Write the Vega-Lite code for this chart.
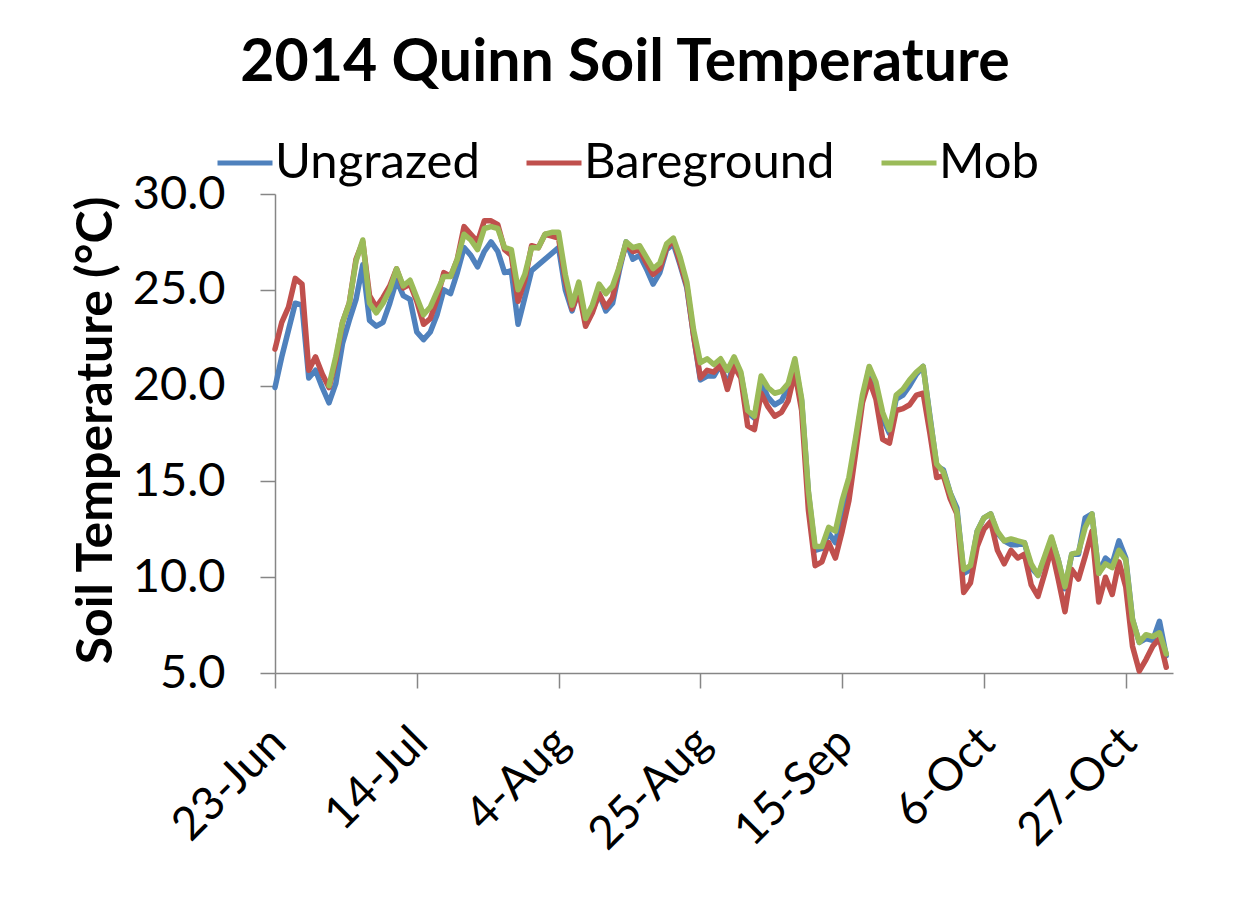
{
  "$schema": "https://vega.github.io/schema/vega-lite/v6.json",
  "width": 898,
  "height": 479,
  "autosize": {"type": "none"},
  "padding": {"left": 275, "top": 194, "right": 76, "bottom": 248},
  "background": "white",
  "title": {"text": "2014 Quinn Soil Temperature", "font": "Lato", "fontSize": 59, "fontWeight": "bold", "color": "black", "anchor": "middle", "frame": "group", "dx": -99, "dy": -36},
  "data": {"values": [
    {"date": "2014-06-23", "Ungrazed": 19.9, "Bareground": 21.9, "Mob": null},
    {"date": "2014-06-24", "Ungrazed": 21.5, "Bareground": 23.3, "Mob": null},
    {"date": "2014-06-25", "Ungrazed": 22.9, "Bareground": 24.1, "Mob": null},
    {"date": "2014-06-26", "Ungrazed": 24.3, "Bareground": 25.6, "Mob": null},
    {"date": "2014-06-27", "Ungrazed": 24.2, "Bareground": 25.3, "Mob": null},
    {"date": "2014-06-28", "Ungrazed": 20.4, "Bareground": 20.8, "Mob": null},
    {"date": "2014-06-29", "Ungrazed": 20.8, "Bareground": 21.5, "Mob": null},
    {"date": "2014-06-30", "Ungrazed": 19.9, "Bareground": 20.6, "Mob": null},
    {"date": "2014-07-01", "Ungrazed": 19.1, "Bareground": 19.9, "Mob": 20.0},
    {"date": "2014-07-02", "Ungrazed": 20.1, "Bareground": 21.3, "Mob": 21.5},
    {"date": "2014-07-03", "Ungrazed": 22.2, "Bareground": 23.3, "Mob": 23.3},
    {"date": "2014-07-04", "Ungrazed": 23.4, "Bareground": 24.3, "Mob": 24.3},
    {"date": "2014-07-05", "Ungrazed": 24.5, "Bareground": 26.6, "Mob": 26.5},
    {"date": "2014-07-06", "Ungrazed": 26.3, "Bareground": 27.5, "Mob": 27.6},
    {"date": "2014-07-07", "Ungrazed": 23.4, "Bareground": 24.7, "Mob": 24.3},
    {"date": "2014-07-08", "Ungrazed": 23.1, "Bareground": 24.1, "Mob": 23.8},
    {"date": "2014-07-09", "Ungrazed": 23.3, "Bareground": 24.6, "Mob": 24.3},
    {"date": "2014-07-10", "Ungrazed": 24.3, "Bareground": 25.2, "Mob": 25.0},
    {"date": "2014-07-11", "Ungrazed": 25.5, "Bareground": 26.1, "Mob": 26.1},
    {"date": "2014-07-12", "Ungrazed": 24.7, "Bareground": 25.1, "Mob": 25.2},
    {"date": "2014-07-13", "Ungrazed": 24.5, "Bareground": 25.3, "Mob": 25.5},
    {"date": "2014-07-14", "Ungrazed": 22.8, "Bareground": 24.4, "Mob": 24.6},
    {"date": "2014-07-15", "Ungrazed": 22.4, "Bareground": 23.2, "Mob": 23.7},
    {"date": "2014-07-16", "Ungrazed": 22.8, "Bareground": 23.5, "Mob": 24.1},
    {"date": "2014-07-17", "Ungrazed": 23.7, "Bareground": 24.5, "Mob": 24.9},
    {"date": "2014-07-18", "Ungrazed": 25.0, "Bareground": 25.9, "Mob": 25.7},
    {"date": "2014-07-19", "Ungrazed": 24.8, "Bareground": 25.7, "Mob": 25.7},
    {"date": "2014-07-20", "Ungrazed": 25.9, "Bareground": 26.6, "Mob": 26.6},
    {"date": "2014-07-21", "Ungrazed": 27.2, "Bareground": 28.3, "Mob": 27.9},
    {"date": "2014-07-22", "Ungrazed": 26.8, "Bareground": 27.9, "Mob": 27.6},
    {"date": "2014-07-23", "Ungrazed": 26.2, "Bareground": 27.5, "Mob": 27.1},
    {"date": "2014-07-24", "Ungrazed": 27.0, "Bareground": 28.6, "Mob": 28.2},
    {"date": "2014-07-25", "Ungrazed": 27.5, "Bareground": 28.6, "Mob": 28.3},
    {"date": "2014-07-26", "Ungrazed": 27.0, "Bareground": 28.4, "Mob": 28.2},
    {"date": "2014-07-27", "Ungrazed": 25.9, "Bareground": 27.1, "Mob": 27.2},
    {"date": "2014-07-28", "Ungrazed": 26.0, "Bareground": 26.8, "Mob": 27.1},
    {"date": "2014-07-29", "Ungrazed": 23.2, "Bareground": 24.4, "Mob": 25.0},
    {"date": "2014-07-30", "Ungrazed": 24.6, "Bareground": 25.5, "Mob": 25.8},
    {"date": "2014-07-31", "Ungrazed": 26.0, "Bareground": 27.3, "Mob": 27.2},
    {"date": "2014-08-01", "Ungrazed": 26.3, "Bareground": 27.2, "Mob": 27.2},
    {"date": "2014-08-02", "Ungrazed": 26.6, "Bareground": 27.9, "Mob": 27.9},
    {"date": "2014-08-03", "Ungrazed": 26.9, "Bareground": 27.8, "Mob": 28.0},
    {"date": "2014-08-04", "Ungrazed": 27.2, "Bareground": 27.7, "Mob": 28.0},
    {"date": "2014-08-05", "Ungrazed": 25.0, "Bareground": 25.5, "Mob": 25.8},
    {"date": "2014-08-06", "Ungrazed": 23.9, "Bareground": 24.0, "Mob": 24.2},
    {"date": "2014-08-07", "Ungrazed": 25.0, "Bareground": 24.9, "Mob": 25.4},
    {"date": "2014-08-08", "Ungrazed": 23.5, "Bareground": 23.1, "Mob": 23.5},
    {"date": "2014-08-09", "Ungrazed": 23.9, "Bareground": 23.8, "Mob": 24.2},
    {"date": "2014-08-10", "Ungrazed": 24.8, "Bareground": 24.8, "Mob": 25.3},
    {"date": "2014-08-11", "Ungrazed": 23.9, "Bareground": 24.1, "Mob": 24.8},
    {"date": "2014-08-12", "Ungrazed": 24.3, "Bareground": 24.6, "Mob": 25.2},
    {"date": "2014-08-13", "Ungrazed": 26.0, "Bareground": 26.2, "Mob": 26.2},
    {"date": "2014-08-14", "Ungrazed": 27.5, "Bareground": 27.4, "Mob": 27.5},
    {"date": "2014-08-15", "Ungrazed": 26.6, "Bareground": 27.0, "Mob": 27.2},
    {"date": "2014-08-16", "Ungrazed": 26.8, "Bareground": 27.1, "Mob": 27.3},
    {"date": "2014-08-17", "Ungrazed": 26.1, "Bareground": 26.4, "Mob": 26.7},
    {"date": "2014-08-18", "Ungrazed": 25.3, "Bareground": 25.8, "Mob": 26.1},
    {"date": "2014-08-19", "Ungrazed": 25.9, "Bareground": 26.1, "Mob": 26.4},
    {"date": "2014-08-20", "Ungrazed": 27.1, "Bareground": 27.2, "Mob": 27.4},
    {"date": "2014-08-21", "Ungrazed": 27.4, "Bareground": 27.6, "Mob": 27.7},
    {"date": "2014-08-22", "Ungrazed": 26.3, "Bareground": 26.4, "Mob": 26.7},
    {"date": "2014-08-23", "Ungrazed": 25.1, "Bareground": 25.2, "Mob": 25.4},
    {"date": "2014-08-24", "Ungrazed": 22.6, "Bareground": 22.6, "Mob": 22.9},
    {"date": "2014-08-25", "Ungrazed": 20.3, "Bareground": 20.4, "Mob": 21.2},
    {"date": "2014-08-26", "Ungrazed": 20.5, "Bareground": 20.8, "Mob": 21.4},
    {"date": "2014-08-27", "Ungrazed": 20.5, "Bareground": 20.7, "Mob": 21.1},
    {"date": "2014-08-28", "Ungrazed": 21.1, "Bareground": 21.1, "Mob": 21.4},
    {"date": "2014-08-29", "Ungrazed": 20.0, "Bareground": 19.8, "Mob": 20.8},
    {"date": "2014-08-30", "Ungrazed": 21.2, "Bareground": 21.0, "Mob": 21.5},
    {"date": "2014-08-31", "Ungrazed": 20.6, "Bareground": 20.4, "Mob": 20.7},
    {"date": "2014-09-01", "Ungrazed": 18.6, "Bareground": 17.9, "Mob": 18.7},
    {"date": "2014-09-02", "Ungrazed": 18.3, "Bareground": 17.7, "Mob": 18.4},
    {"date": "2014-09-03", "Ungrazed": 20.2, "Bareground": 19.6, "Mob": 20.5},
    {"date": "2014-09-04", "Ungrazed": 19.4, "Bareground": 18.9, "Mob": 19.9},
    {"date": "2014-09-05", "Ungrazed": 19.0, "Bareground": 18.4, "Mob": 19.6},
    {"date": "2014-09-06", "Ungrazed": 19.2, "Bareground": 18.6, "Mob": 19.7},
    {"date": "2014-09-07", "Ungrazed": 19.9, "Bareground": 19.2, "Mob": 20.1},
    {"date": "2014-09-08", "Ungrazed": 21.2, "Bareground": 20.7, "Mob": 21.4},
    {"date": "2014-09-09", "Ungrazed": 19.2, "Bareground": 18.7, "Mob": 19.3},
    {"date": "2014-09-10", "Ungrazed": 14.4, "Bareground": 13.5, "Mob": 14.5},
    {"date": "2014-09-11", "Ungrazed": 11.4, "Bareground": 10.6, "Mob": 11.6},
    {"date": "2014-09-12", "Ungrazed": 11.5, "Bareground": 10.8, "Mob": 11.6},
    {"date": "2014-09-13", "Ungrazed": 12.3, "Bareground": 11.8, "Mob": 12.6},
    {"date": "2014-09-14", "Ungrazed": 11.8, "Bareground": 11.0, "Mob": 12.4},
    {"date": "2014-09-15", "Ungrazed": 13.3, "Bareground": 12.4, "Mob": 14.0},
    {"date": "2014-09-16", "Ungrazed": 14.9, "Bareground": 14.0, "Mob": 15.2},
    {"date": "2014-09-17", "Ungrazed": 17.1, "Bareground": 16.5, "Mob": 17.3},
    {"date": "2014-09-18", "Ungrazed": 19.3, "Bareground": 19.1, "Mob": 19.5},
    {"date": "2014-09-19", "Ungrazed": 20.9, "Bareground": 20.3, "Mob": 21.0},
    {"date": "2014-09-20", "Ungrazed": 19.9, "Bareground": 19.3, "Mob": 20.2},
    {"date": "2014-09-21", "Ungrazed": 18.3, "Bareground": 17.2, "Mob": 18.6},
    {"date": "2014-09-22", "Ungrazed": 17.5, "Bareground": 17.0, "Mob": 17.7},
    {"date": "2014-09-23", "Ungrazed": 19.3, "Bareground": 18.7, "Mob": 19.5},
    {"date": "2014-09-24", "Ungrazed": 19.5, "Bareground": 18.8, "Mob": 19.8},
    {"date": "2014-09-25", "Ungrazed": 20.0, "Bareground": 19.0, "Mob": 20.3},
    {"date": "2014-09-26", "Ungrazed": 20.6, "Bareground": 19.5, "Mob": 20.7},
    {"date": "2014-09-27", "Ungrazed": 21.0, "Bareground": 19.6, "Mob": 21.0},
    {"date": "2014-09-28", "Ungrazed": 18.4, "Bareground": 17.5, "Mob": 18.3},
    {"date": "2014-09-29", "Ungrazed": 15.8, "Bareground": 15.2, "Mob": 15.9},
    {"date": "2014-09-30", "Ungrazed": 15.6, "Bareground": 15.3, "Mob": 15.5},
    {"date": "2014-10-01", "Ungrazed": 14.4, "Bareground": 14.1, "Mob": 14.4},
    {"date": "2014-10-02", "Ungrazed": 13.6, "Bareground": 13.3, "Mob": 13.4},
    {"date": "2014-10-03", "Ungrazed": 10.2, "Bareground": 9.2, "Mob": 10.4},
    {"date": "2014-10-04", "Ungrazed": 10.4, "Bareground": 9.7, "Mob": 10.6},
    {"date": "2014-10-05", "Ungrazed": 12.4, "Bareground": 11.6, "Mob": 12.4},
    {"date": "2014-10-06", "Ungrazed": 13.1, "Bareground": 12.5, "Mob": 13.1},
    {"date": "2014-10-07", "Ungrazed": 13.3, "Bareground": 12.9, "Mob": 13.3},
    {"date": "2014-10-08", "Ungrazed": 12.3, "Bareground": 11.4, "Mob": 12.4},
    {"date": "2014-10-09", "Ungrazed": 11.9, "Bareground": 10.7, "Mob": 11.9},
    {"date": "2014-10-10", "Ungrazed": 11.7, "Bareground": 11.4, "Mob": 12.0},
    {"date": "2014-10-11", "Ungrazed": 11.7, "Bareground": 11.0, "Mob": 11.9},
    {"date": "2014-10-12", "Ungrazed": 11.8, "Bareground": 11.2, "Mob": 11.8},
    {"date": "2014-10-13", "Ungrazed": 10.5, "Bareground": 9.6, "Mob": 10.7},
    {"date": "2014-10-14", "Ungrazed": 10.1, "Bareground": 9.0, "Mob": 10.1},
    {"date": "2014-10-15", "Ungrazed": 11.0, "Bareground": 10.2, "Mob": 11.1},
    {"date": "2014-10-16", "Ungrazed": 12.0, "Bareground": 11.5, "Mob": 12.1},
    {"date": "2014-10-17", "Ungrazed": 10.9, "Bareground": 9.9, "Mob": 10.9},
    {"date": "2014-10-18", "Ungrazed": 9.4, "Bareground": 8.2, "Mob": 9.5},
    {"date": "2014-10-19", "Ungrazed": 11.2, "Bareground": 10.4, "Mob": 11.2},
    {"date": "2014-10-20", "Ungrazed": 11.2, "Bareground": 9.9, "Mob": 11.3},
    {"date": "2014-10-21", "Ungrazed": 13.1, "Bareground": 11.1, "Mob": 12.6},
    {"date": "2014-10-22", "Ungrazed": 13.3, "Bareground": 12.4, "Mob": 13.3},
    {"date": "2014-10-23", "Ungrazed": 10.2, "Bareground": 8.7, "Mob": 10.2},
    {"date": "2014-10-24", "Ungrazed": 11.0, "Bareground": 10.0, "Mob": 10.7},
    {"date": "2014-10-25", "Ungrazed": 10.7, "Bareground": 9.1, "Mob": 10.5},
    {"date": "2014-10-26", "Ungrazed": 11.9, "Bareground": 10.8, "Mob": 11.4},
    {"date": "2014-10-27", "Ungrazed": 11.0, "Bareground": 9.5, "Mob": 10.9},
    {"date": "2014-10-28", "Ungrazed": 7.8, "Bareground": 6.4, "Mob": 7.8},
    {"date": "2014-10-29", "Ungrazed": 6.6, "Bareground": 5.1, "Mob": 6.6},
    {"date": "2014-10-30", "Ungrazed": 6.8, "Bareground": 5.7, "Mob": 7.0},
    {"date": "2014-10-31", "Ungrazed": 6.7, "Bareground": 6.4, "Mob": 6.9},
    {"date": "2014-11-01", "Ungrazed": 7.7, "Bareground": 6.8, "Mob": 7.1},
    {"date": "2014-11-02", "Ungrazed": 5.9, "Bareground": 5.3, "Mob": 6.0}
  ]},
  "transform": [{"fold": ["Ungrazed", "Bareground", "Mob"], "as": ["series", "temp"]}],
  "mark": {"type": "line", "strokeWidth": 5.5, "strokeJoin": "round", "strokeCap": "round"},
  "encoding": {
    "x": {
      "field": "date", "type": "temporal",
      "scale": {"type": "utc", "domain": [{"year": 2014, "month": 6, "date": 23, "utc": true}, {"year": 2014, "month": 11, "date": 3, "utc": true}]},
      "axis": {
        "title": null, "grid": false,
        "values": [
          {"year": 2014, "month": 6, "date": 23, "utc": true},
          {"year": 2014, "month": 7, "date": 14, "utc": true},
          {"year": 2014, "month": 8, "date": 4, "utc": true},
          {"year": 2014, "month": 8, "date": 25, "utc": true},
          {"year": 2014, "month": 9, "date": 15, "utc": true},
          {"year": 2014, "month": 10, "date": 6, "utc": true},
          {"year": 2014, "month": 10, "date": 27, "utc": true}
        ],
        "format": "%-d-%b",
        "labelAngle": -45, "labelAlign": "right", "labelBaseline": "middle",
        "labelFont": "Lato", "labelFontSize": 46, "labelColor": "black",
        "labelPadding": 47, "labelOffset": 3, "labelOverlap": false, "labelBound": false, "labelFlush": false,
        "tickSize": 15, "tickColor": "#868686", "tickWidth": 1.5,
        "domainColor": "#868686", "domainWidth": 1.5
      }
    },
    "y": {
      "field": "temp", "type": "quantitative",
      "scale": {"domain": [5, 30], "nice": false, "zero": false},
      "axis": {
        "grid": false, "values": [5, 10, 15, 20, 25, 30], "format": ".1f",
        "labelFont": "Lato", "labelFontSize": 47, "labelColor": "black", "labelPadding": 35,
        "labelFlush": false, "labelOverlap": false,
        "tickSize": 15, "tickColor": "#868686", "tickWidth": 1.5,
        "domainColor": "#868686", "domainWidth": 1.5,
        "title": "Soil Temperature (°C)", "titleFont": "Lato", "titleFontSize": 50, "titleFontWeight": "bold", "titleColor": "black",
        "titleX": -179, "titleY": 236, "titleAngle": -90, "titleAlign": "center", "titleBaseline": "middle"
      }
    },
    "color": {
      "field": "series", "type": "nominal",
      "scale": {"domain": ["Ungrazed", "Bareground", "Mob"], "range": ["#4F81BD", "#C0504D", "#9BBB59"]},
      "legend": {
        "orient": "none", "legendX": -60, "legendY": -61, "direction": "horizontal", "title": null,
        "symbolType": "stroke", "symbolSize": 3025, "symbolStrokeWidth": 5,
        "labelFont": "Lato", "labelFontSize": 49, "labelColor": "black", "labelOffset": 0, "labelLimit": 400,
        "columnPadding": 36, "padding": 0
      }
    }
  },
  "config": {"view": {"stroke": null}}
}
